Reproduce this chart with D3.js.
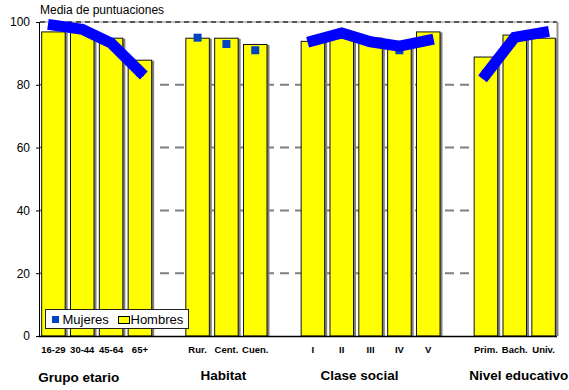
<!DOCTYPE html>
<html>
<head>
<meta charset="utf-8">
<script src="https://cdn.jsdelivr.net/npm/d3@7"></script>
<style>
  html, body { margin: 0; padding: 0; background: #fff; }
  svg { display: block; font-family: "Liberation Sans", Arial, sans-serif; }
</style>
</head>
<body>
<svg id="chart" width="569" height="390"></svg>
<script>
// ---- data ----
const groups = ["Grupo etario", "Habitat", "Clase social", "Nivel educativo"];
const categories = [
  ["16-29", "30-44", "45-64", "65+"],
  ["Rur.", "Cent.", "Cuen."],
  ["I", "II", "III", "IV", "V"],
  ["Prim.", "Bach.", "Univ."]
];
const hombres = [
  [97, 97, 95, 88],
  [95, 95, 93],
  [94, 95, 95, 93, 97],
  [89, 96, 95]
];
const mujeres = [
  [99, 97.5, 93.5, 84],
  [95, 93, 91],
  [94, 96.5, 93.5, 91, 94],
  [83.5, 95, 96.5]
];
// thick overlay line drawn over the Mujeres points (not in Habitat)
const mujeresLinea = [
  [99, 97.7, 93.3, 84.2],
  null,
  [94, 96.5, 93.7, 92.3, 94.2],
  [83.3, 95.1, 96.7]
];
const yTicks = [0, 20, 40, 60, 80, 100];
const yTitle = "Media de puntuaciones";
const seriesNames = ["Mujeres", "Hombres"];
const groupLabelShift = [-18, -3, -11, 4];

// ---- layout ----
const svg = d3.select("#chart");
const pLeft = 39, pRight = 558, pTop = 22, pBottom = 336;

const slots = [];
groups.forEach((g, gi) => {
  if (gi > 0) slots.push("gap" + gi);
  categories[gi].forEach(c => slots.push(g + "|" + c));
});

const x = d3.scaleBand().domain(slots).range([pLeft, pRight])
  .paddingInner(0.15).paddingOuter(0.075);
const y = d3.scaleLinear().domain([0, 100]).range([pBottom, pTop]);

const rows = [];
groups.forEach((g, gi) => categories[gi].forEach((c, ci) => rows.push({
  key: g + "|" + c, cat: c, gi, ci,
  h: hombres[gi][ci], m: mujeres[gi][ci]
})));

// gridlines
const grid = svg.append("g");
grid.selectAll("line.g").data(yTicks.filter(t => t > 0 && t < 100)).join("line")
  .attr("x1", pLeft + 1).attr("x2", pRight - 1)
  .attr("y1", d => y(d)).attr("y2", d => y(d))
  .attr("stroke", "#808080").attr("stroke-width", 2)
  .attr("stroke-dasharray", "9,6");
// top line at 100
grid.append("line").attr("x1", pLeft + 1).attr("x2", pRight - 1)
  .attr("y1", y(100)).attr("y2", y(100))
  .attr("stroke", "#b0b0b0").attr("stroke-width", 1.5);
grid.append("line").attr("x1", pLeft + 1).attr("x2", pRight - 1)
  .attr("y1", y(100)).attr("y2", y(100))
  .attr("stroke", "#333").attr("stroke-width", 1.5)
  .attr("stroke-dasharray", "5,4");
// right border
grid.append("line").attr("x1", pRight - 0.5).attr("x2", pRight - 0.5)
  .attr("y1", y(100)).attr("y2", y(0))
  .attr("stroke", "#909090").attr("stroke-width", 2);

// bars (with shadow)
const bars = svg.append("g");
bars.selectAll("rect.sh").data(rows).join("rect")
  .attr("x", d => x(d.key) + 2).attr("y", d => y(d.h) + 1)
  .attr("width", x.bandwidth()).attr("height", d => y(0) - y(d.h) - 1)
  .attr("fill", "#808080");
bars.selectAll("rect.b").data(rows).join("rect")
  .attr("x", d => x(d.key) + 0.5).attr("y", d => y(d.h) + 0.5)
  .attr("width", x.bandwidth() - 1).attr("height", d => y(0) - y(d.h) - 0.5)
  .attr("fill", "#ffff00").attr("stroke", "#111").attr("stroke-width", 1);

// Mujeres markers
svg.append("g").selectAll("rect").data(rows).join("rect")
  .attr("x", d => x(d.key) + x.bandwidth() / 2 - 4)
  .attr("y", d => y(d.m) - 4)
  .attr("width", 8).attr("height", 8)
  .attr("fill", "#0044c4");

// thick overlay lines
const line = d3.line().x(d => d[0]).y(d => d[1]);
groups.forEach((g, gi) => {
  if (!mujeresLinea[gi]) return;
  const pts = categories[gi].map((c, ci) => [x(g + "|" + c) + x.bandwidth() / 2, y(mujeresLinea[gi][ci])]);
  svg.append("path").attr("d", line(pts))
    .attr("fill", "none").attr("stroke", "#0000ff")
    .attr("stroke-width", 11).attr("stroke-linecap", "square")
    .attr("stroke-linejoin", "miter");
});

// axes
const yAxis = d3.axisLeft(y).tickValues(yTicks).tickSize(4).tickPadding(6);
const ya = svg.append("g").attr("transform", `translate(${pLeft + 1},0)`).call(yAxis);
ya.select(".domain").attr("stroke", "#000").attr("d", `M-0.5,${pTop}V${pBottom}`);
ya.selectAll(".tick line").attr("stroke", "#000");
ya.selectAll(".tick text").attr("font-size", 12).attr("fill", "#000")
  .attr("font-family", "Liberation Sans, Arial, sans-serif");

svg.append("line").attr("x1", pLeft - 1).attr("x2", pRight - 1)
  .attr("y1", pBottom + 0.5).attr("y2", pBottom + 0.5)
  .attr("stroke", "#000").attr("stroke-width", 1.5);

// category labels
svg.append("g").selectAll("text").data(rows).join("text")
  .attr("x", d => x(d.key) + x.bandwidth() / 2)
  .attr("y", 353)
  .attr("text-anchor", "middle")
  .attr("font-size", 9.5).attr("font-weight", "bold")
  .text(d => d.cat);

// group labels
svg.append("g").selectAll("text").data(groups).join("text")
  .attr("x", (g, gi) => {
    const first = x(g + "|" + categories[gi][0]);
    const last = x(g + "|" + categories[gi][categories[gi].length - 1]) + x.bandwidth();
    return (first + last) / 2 + groupLabelShift[gi];
  })
  .attr("y", (g, gi) => gi === 0 ? 382 : 380)
  .attr("text-anchor", "middle")
  .attr("font-size", 13.5).attr("font-weight", "bold")
  .text(g => g);

// y title
svg.append("text").attr("x", 40).attr("y", 14)
  .attr("font-size", 12).text(yTitle);

// legend
const lg = svg.append("g");
lg.append("rect").attr("x", 45.5).attr("y", 309.5).attr("width", 143).attr("height", 19)
  .attr("fill", "#fff").attr("stroke", "#222").attr("stroke-width", 1);
lg.append("rect").attr("x", 52).attr("y", 316).attr("width", 7).attr("height", 7)
  .attr("fill", "#0044c4");
lg.append("text").attr("x", 62.5).attr("y", 323.5).attr("font-size", 13).text(seriesNames[0]);
lg.append("rect").attr("x", 118.5).attr("y", 316.5).attr("width", 11).attr("height", 7)
  .attr("fill", "#ffff00").attr("stroke", "#000").attr("stroke-width", 1);
lg.append("text").attr("x", 130.5).attr("y", 323.5).attr("font-size", 13).text(seriesNames[1]);
</script>
</body>
</html>
